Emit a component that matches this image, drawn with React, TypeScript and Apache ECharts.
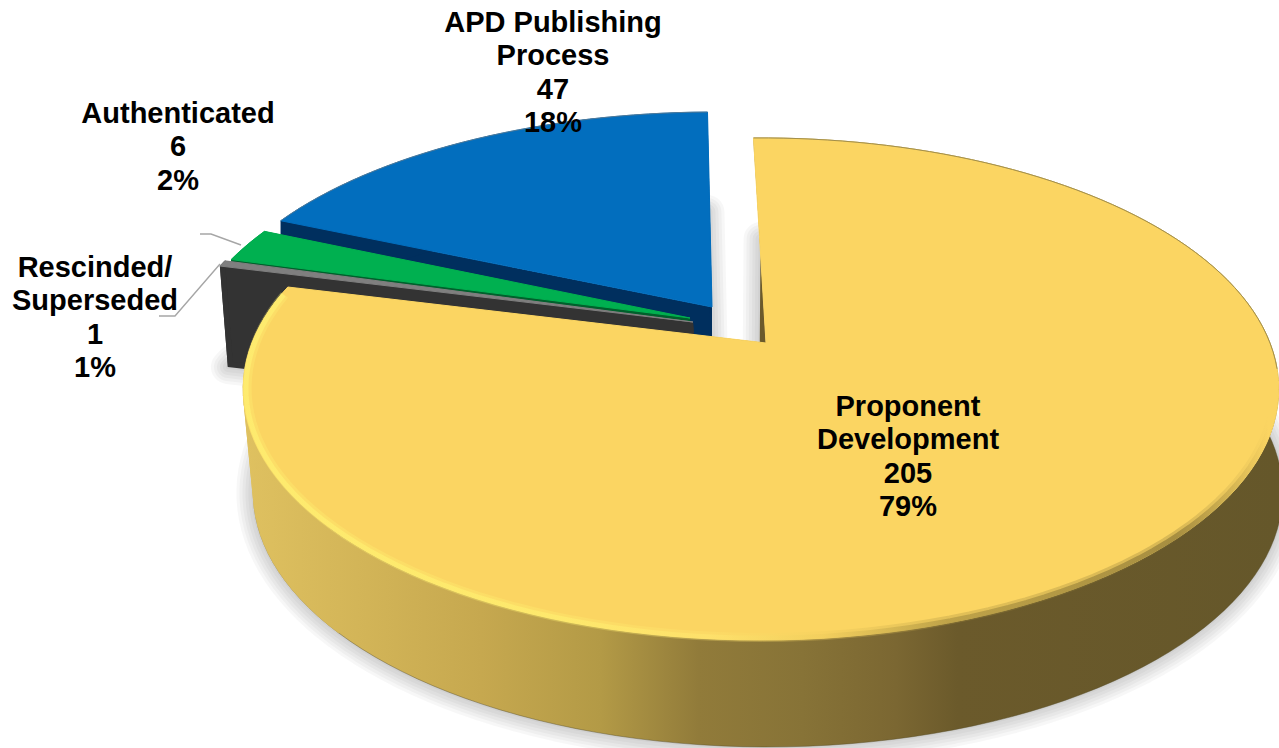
import React, { useEffect, useRef } from "react";
import * as echarts from "echarts";

const categories = ["Proponent\nDevelopment", "Rescinded/\nSuperseded", "Authenticated", "APD Publishing\nProcess"];
const values = [205, 1, 6, 47];
const percentLabels = ["79%", "1%", "2%", "18%"];

const START_ANGLE = -1;
const TILT_K = 0.183;
const RADIUS_X = 509;
const RADIUS_Y = 242.6;
const FONT = 'bold 29px "Liberation Sans", Arial, sans-serif';
const SHADOW_WIDTHS = [4, 10, 16, 22, 28, 34];

const topColors = ["#FBD562", "#7f7f7f", "#00B050", "#026EBE"];
const wallColors = ["#a89040", "#333333", "#00602c", "#002F5E"];

const WALL_GRADIENT = {
  type: "linear", x: 243, y: 0, x2: 1279, y2: 0, global: true,
  colorStops: [
    { offset: 0, color: "#dfc160" },
    { offset: 0.23, color: "#c6a84f" },
    { offset: 0.345, color: "#b39a46" },
    { offset: 0.44, color: "#917b3a" },
    { offset: 0.54, color: "#877337" },
    { offset: 0.63, color: "#7b6732" },
    { offset: 0.69, color: "#6b5a2b" },
    { offset: 1, color: "#65572a" },
  ],
};
const BEVEL_GRADIENT = {
  type: "linear", x: 243, y: 0, x2: 1279, y2: 0, global: true,
  colorStops: [
    { offset: 0, color: "rgba(255,243,115,1)" },
    { offset: 0.3, color: "rgba(255,240,112,1)" },
    { offset: 0.45, color: "rgba(255,229,110,1)" },
    { offset: 0.56, color: "rgba(240,205,92,1)" },
    { offset: 0.68, color: "rgba(168,144,63,1)" },
    { offset: 0.9, color: "rgba(125,107,48,0.9)" },
    { offset: 0.99, color: "rgba(125,107,48,0)" },
  ],
};

// Per-slice placement on the page (explosion of each wedge, wall projection)
const slices = [
  { ax: 761, ay: 343, tipX: 766, sx: 1, sy: 1, dx: 7, dy: 104, scx: 0.994, scy: 1.012, tipDx: -7, tipDy: 100, z: 40 },
  { ax: 693, ay: 322, tipX: 693, sx: 1, sy: 1, dx: 8, dy: 101, scx: 1, scy: 1, tipDx: 8, tipDy: 101, z: 30 },
  { ax: 690, ay: 318, tipX: 690, sx: 0.98, sy: 0.955, dx: 4, dy: 100, scx: 1, scy: 1, tipDx: 4, tipDy: 100, z: 20 },
  { ax: 715, ay: 307, tipX: 712, sx: 1, sy: 0.951, dx: 0, dy: 100, scx: 1, scy: 1, tipDx: 0, tipDy: 100, z: 10 },
];
const labelCenters = [[908, 456], [95, 317], [178, 146], [553, 72]];
const leaderLines: number[][][] = [
  [],
  [[220, 264], [175, 316], [159, 316]],
  [[241, 245], [211, 234], [200, 234]],
  [],
];

type Slice = (typeof slices)[number];

function project(s: Slice, deg: number, r = 1): number[] {
  const t = (deg * Math.PI) / 180;
  const u = Math.sin(t) * r;
  const v = -Math.cos(t) * r;
  const w = 1 - TILT_K * v;
  return [s.ax + (RADIUS_X * s.sx * u) / w, s.ay + (RADIUS_Y * s.sy * v) / w];
}
function lower(s: Slice, p: number[]): number[] {
  return [
    s.ax + (p[0] - s.ax) * s.scx + s.dx,
    389 + (p[1] - 389) * s.scy + s.dy,
  ];
}
function arc(s: Slice, from: number, to: number, r = 1): number[][] {
  const pts: number[][] = [];
  const n = Math.max(2, Math.ceil(Math.abs(to - from) / 2));
  for (let i = 0; i <= n; i++) pts.push(project(s, from + ((to - from) * i) / n, r));
  return pts;
}

const total = values.reduce((a, b) => a + b, 0);

function renderSlice(params: any, api: any) {
  const i = params.dataIndex;
  const s = slices[i];
  let before = 0;
  for (let k = 0; k < i; k++) before += values[k];
  const a0 = START_ANGLE + (before / total) * 360;
  const a1 = a0 + (api.value(0) / total) * 360;
  const top = arc(s, a0, a1);
  const tip = [s.tipX, s.ay];
  const tipLow = [s.tipX + s.tipDx, s.ay + s.tipDy];
  const low = top.map((p) => lower(s, p));
  const z = s.z;
  const children: any[] = [];

  // soft shadow of the wedge's bottom face, built from wide translucent strokes
  if (i === 0 || i === 1 || i === 3) {
    SHADOW_WIDTHS.forEach((lw) => {
      children.push({
        type: "polygon", z2: 1,
        shape: { points: [tipLow, ...low] },
        style: { fill: "none", stroke: "rgba(0,0,0,0.03)", lineWidth: lw, lineJoin: "round" },
      });
    });
  }
  // radial wall at the start of the wedge's arc
  children.push({
    type: "polygon", z2: z + 1,
    shape: { points: [tip, top[0], low[0], tipLow] },
    style: { fill: i === 0 ? "#6b5a2b" : wallColors[i] },
  });
  // radial wall at the end of the wedge's arc
  children.push({
    type: "polygon", z2: z + 1,
    shape: { points: [tip, top[top.length - 1], low[low.length - 1], tipLow] },
    style: { fill: i === 0 ? "#6b5a2b" : wallColors[i] },
  });
  // outer curved wall
  children.push({
    type: "polygon", z2: z + 2,
    shape: { points: [...top, ...low.slice().reverse()] },
    style: i === 0
      ? { fill: WALL_GRADIENT, stroke: "rgba(85,75,40,0.55)", lineWidth: 0.8 }
      : { fill: wallColors[i] },
  });
  if (i === 0) {
    // ruled strips so that the wall's silhouette runs straight from rim to foot at the left
    for (let j = top.length - 1; j > top.length * 0.8; j--) {
      children.push({
        type: "polygon", z2: z + 2,
        shape: { points: [top[j], top[j - 1], low[j - 1], low[j]] },
        style: { fill: WALL_GRADIENT, stroke: WALL_GRADIENT, lineWidth: 0.6 },
      });
    }
  }
  // top face
  children.push({
    type: "polygon", z2: z + 3,
    shape: { points: [tip, ...top] },
    style: { fill: topColors[i], stroke: topColors[i], lineWidth: 1, lineJoin: "round" },
  });
  if (i === 0) {
    children.push({
      type: "polyline", z2: z + 4, shape: { points: arc(s, 96, a1 - 2, 0.993) },
      style: { fill: "none", stroke: BEVEL_GRADIENT, lineWidth: 9, opacity: 0.3 },
    });
    children.push({
      type: "polyline", z2: z + 4, shape: { points: arc(s, 96, a1 - 2, 0.995) },
      style: { fill: "none", stroke: BEVEL_GRADIENT, lineWidth: 5, opacity: 0.6 },
    });
    children.push({
      type: "polyline", z2: z + 4, shape: { points: arc(s, a0, 96, 1) },
      style: { fill: "none", stroke: "rgba(140,125,70,0.8)", lineWidth: 1 },
    });
  }
  if (i === 3) {
    children.push({
      type: "polyline", z2: z + 4, shape: { points: top },
      style: { fill: "none", stroke: "rgba(130,130,130,0.6)", lineWidth: 1 },
    });
  }
  if (leaderLines[i].length) {
    children.push({
      type: "polyline", z2: 90, shape: { points: leaderLines[i] },
      style: { fill: "none", stroke: "#a6a6a6", lineWidth: 1.4 },
    });
  }
  children.push({
    type: "text", z2: 100,
    style: {
      text: `${categories[i]}\n${api.value(0)}\n${percentLabels[i]}`,
      x: labelCenters[i][0], y: labelCenters[i][1],
      font: FONT, fill: "#000000", align: "center", verticalAlign: "middle", lineHeight: 33.5,
    },
  });
  return { type: "group", children };
}

export default function App() {
  const ref = useRef<HTMLDivElement>(null);
  useEffect(() => {
    const chart = echarts.init(ref.current!, undefined, { renderer: "svg" });
    chart.setOption({
      animation: false,
      backgroundColor: "#ffffff",
      series: [
        {
          type: "custom",
          coordinateSystem: "none",
          silent: true,
          clip: false,
          data: values.map((v, i) => ({ name: categories[i], value: [v] })),
          renderItem: renderSlice,
        },
      ],
    });
    return () => chart.dispose();
  }, []);
  return <div ref={ref} style={{ position: "fixed", left: 0, top: 0, width: 1279, height: 748 }} />;
}
